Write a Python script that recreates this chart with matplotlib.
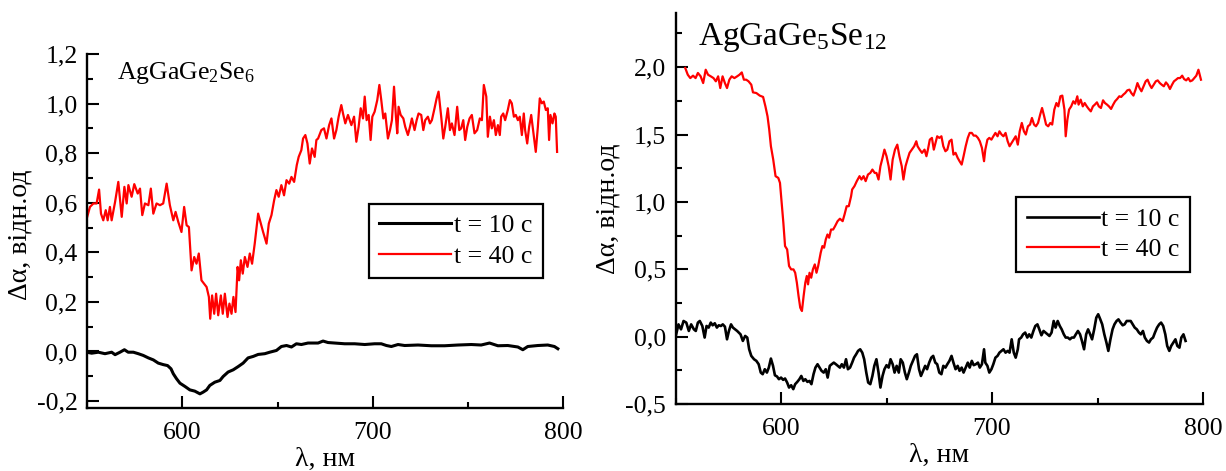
"""
Спектри фотоіндукованої зміни поглинання Δα(λ) для AgGaGe2Se6 та AgGaGe5Se12.

Дві панелі: крива після 10 с та після 40 с опромінення.
Значення зчитані з рисунка вручну (λ у нм, Δα у відн. од.).
"""

import matplotlib
matplotlib.use("Agg")
import matplotlib.pyplot as plt
from matplotlib.ticker import MultipleLocator, FuncFormatter

# ==========================================
# DATA: (λ, Δα)
# ==========================================
left_10s = [
    (549.7, -0.003), (552.3, -0.007), (555.8, -0.003), (559.3, -0.009), (562.8, -0.003),
    (564.6, -0.013), (567.2, -0.003), (569.5, 0.007), (571.5, -0.003), (574.2, -0.003),
    (576.8, -0.009), (579.4, -0.016), (582.1, -0.026), (584.7, -0.034), (587.3, -0.047),
    (589.9, -0.053), (592.2, -0.057), (594.0, -0.070), (595.2, -0.090), (596.9, -0.110),
    (598.7, -0.128), (601.3, -0.141), (603.9, -0.155), (606.5, -0.160), (609.2, -0.171),
    (610.9, -0.164), (612.7, -0.155), (614.4, -0.137), (617.0, -0.124), (619.7, -0.117),
    (621.4, -0.101), (624.0, -0.083), (626.7, -0.074), (629.3, -0.061), (631.9, -0.047),
    (634.5, -0.026), (637.2, -0.020), (639.8, -0.012), (643.3, -0.009), (645.9, -0.003),
    (649.4, 0.004), (652.0, 0.020), (654.7, 0.024), (657.3, 0.018), (659.9, 0.031),
    (662.5, 0.028), (666.0, 0.034), (671.3, 0.034), (673.9, 0.042), (676.5, 0.036),
    (680.0, 0.034), (685.3, 0.031), (690.5, 0.031), (695.8, 0.028), (701.0, 0.031),
    (704.5, 0.031), (707.2, 0.024), (709.8, 0.020), (713.3, 0.028), (716.8, 0.024),
    (723.8, 0.026), (730.8, 0.023), (737.8, 0.023), (744.8, 0.026), (751.8, 0.028),
    (757.0, 0.026), (761.4, 0.034), (765.8, 0.023), (771.0, 0.024), (776.3, 0.018),
    (778.9, 0.007), (781.5, 0.020), (786.8, 0.024), (792.0, 0.026), (795.5, 0.020),
    (797.3, 0.011),
]

left_40s = [
    (549.7, 0.536), (551.4, 0.583), (553.2, 0.597), (554.9, 0.597), (556.2, 0.653),
    (557.2, 0.556), (558.4, 0.529), (559.7, 0.570), (560.7, 0.529), (561.9, 0.583),
    (562.8, 0.529), (564.6, 0.603), (566.3, 0.684), (568.1, 0.543), (569.5, 0.664),
    (570.7, 0.597), (571.6, 0.671), (573.3, 0.624), (574.7, 0.675), (576.5, 0.637),
    (577.7, 0.657), (578.9, 0.550), (580.3, 0.597), (582.1, 0.590), (583.4, 0.657),
    (584.7, 0.556), (586.4, 0.597), (588.2, 0.590), (589.9, 0.597), (591.7, 0.677),
    (593.4, 0.590), (595.2, 0.529), (596.4, 0.563), (597.8, 0.523), (599.5, 0.482),
    (600.9, 0.583), (602.2, 0.509), (603.4, 0.502), (604.8, 0.327), (606.2, 0.381),
    (607.4, 0.354), (608.6, 0.395), (610.0, 0.287), (611.4, 0.273), (612.7, 0.260),
    (613.9, 0.220), (614.6, 0.132), (615.6, 0.226), (616.7, 0.152), (617.7, 0.233),
    (618.8, 0.146), (620.2, 0.226), (621.2, 0.152), (622.3, 0.233), (623.7, 0.139),
    (624.7, 0.193), (625.8, 0.152), (626.8, 0.220), (627.9, 0.159), (629.0, 0.341),
    (629.8, 0.287), (630.7, 0.368), (631.7, 0.314), (632.8, 0.381), (634.2, 0.341),
    (635.4, 0.395), (636.6, 0.354), (638.0, 0.435), (639.8, 0.556), (641.2, 0.516),
    (642.4, 0.482), (644.2, 0.435), (645.4, 0.516), (646.8, 0.550), (648.2, 0.610),
    (649.4, 0.651), (650.6, 0.624), (652.0, 0.671), (653.4, 0.630), (654.7, 0.691),
    (656.1, 0.677), (657.3, 0.704), (658.7, 0.684), (660.1, 0.752), (661.1, 0.785),
    (662.5, 0.812), (663.4, 0.859), (664.6, 0.873), (665.7, 0.839), (666.9, 0.758),
    (668.1, 0.819), (669.5, 0.785), (670.4, 0.853), (671.3, 0.859), (673.0, 0.893),
    (674.4, 0.900), (675.7, 0.859), (677.1, 0.913), (678.3, 0.940), (679.7, 0.859),
    (680.9, 0.893), (682.1, 0.947), (683.5, 0.994), (684.4, 0.960), (685.6, 0.920),
    (687.0, 0.954), (688.8, 0.913), (690.2, 0.947), (691.4, 0.846), (692.6, 0.906),
    (693.7, 0.981), (694.9, 0.940), (695.8, 1.028), (696.8, 0.933), (697.9, 0.954),
    (698.9, 0.853), (699.8, 0.947), (701.0, 0.967), (702.4, 1.014), (703.5, 1.075),
    (704.5, 1.014), (705.6, 0.940), (706.6, 0.960), (708.0, 0.859), (709.1, 0.893),
    (710.1, 0.933), (711.2, 1.068), (712.2, 0.947), (712.9, 0.880), (713.6, 0.987),
    (714.7, 0.954), (716.1, 0.940), (717.1, 0.906), (718.5, 0.873), (719.6, 0.906),
    (720.6, 0.940), (722.0, 0.893), (723.1, 0.933), (724.1, 0.960), (725.5, 0.954),
    (726.6, 0.893), (727.6, 0.933), (729.0, 0.947), (730.1, 0.920), (731.1, 0.933),
    (732.5, 0.981), (733.6, 1.021), (734.6, 1.048), (736.0, 0.947), (737.1, 0.859),
    (738.1, 0.906), (739.5, 0.981), (740.6, 0.893), (741.6, 0.920), (743.0, 0.873),
    (744.4, 0.987), (745.5, 0.893), (746.5, 0.900), (747.6, 0.933), (748.6, 0.853),
    (749.7, 0.906), (750.9, 0.940), (752.1, 0.954), (753.5, 0.880), (754.9, 0.893),
    (756.3, 0.940), (757.4, 0.933), (758.4, 1.075), (759.7, 1.028), (760.5, 0.866),
    (761.6, 0.947), (762.6, 0.900), (763.7, 0.933), (764.7, 0.873), (765.8, 0.913),
    (766.8, 0.873), (767.5, 0.947), (768.6, 0.960), (769.6, 0.933), (771.0, 0.974),
    (772.1, 1.014), (773.1, 1.001), (774.2, 0.947), (775.2, 0.954), (776.3, 0.933),
    (777.3, 0.947), (778.4, 0.873), (779.4, 0.960), (780.1, 0.893), (781.2, 0.839),
    (782.2, 0.906), (783.3, 0.954), (784.7, 0.866), (785.7, 0.805), (786.8, 0.906),
    (787.8, 1.021), (788.9, 1.001), (789.9, 1.008), (791.0, 0.974), (792.0, 0.981),
    (792.7, 0.853), (793.4, 0.954), (794.5, 0.920), (795.5, 0.960), (796.2, 0.947),
    (796.9, 0.805),
]

right_10s = [
    (550.3, 0.017), (551.4, 0.091), (552.6, 0.054), (553.8, 0.116), (555.1, 0.104),
    (556.3, 0.042), (557.4, 0.091), (558.7, 0.054), (559.6, 0.042), (560.6, 0.104),
    (561.5, 0.116), (562.7, 0.079), (563.8, -0.007), (564.7, 0.079), (565.7, 0.067),
    (566.7, 0.104), (567.6, 0.084), (568.6, 0.099), (569.6, 0.067), (570.5, 0.084),
    (571.5, 0.079), (572.4, 0.091), (573.4, 0.074), (574.4, -0.020), (575.3, 0.042),
    (576.3, 0.091), (577.2, 0.067), (578.2, 0.054), (579.2, 0.042), (580.8, 0.017),
    (581.9, -0.032), (583.0, 0.005), (584.0, -0.007), (584.9, -0.094), (585.9, -0.143),
    (587.2, -0.168), (588.3, -0.180), (589.4, -0.205), (590.4, -0.267), (591.3, -0.279),
    (592.3, -0.242), (593.3, -0.267), (594.2, -0.230), (595.2, -0.163), (596.2, -0.217),
    (597.1, -0.287), (598.1, -0.296), (599.0, -0.316), (600.0, -0.304), (601.0, -0.321),
    (601.9, -0.311), (602.9, -0.341), (603.8, -0.378), (604.8, -0.361), (605.8, -0.390),
    (606.7, -0.353), (607.7, -0.336), (608.7, -0.316), (609.6, -0.292), (610.6, -0.329),
    (611.5, -0.316), (612.5, -0.336), (613.5, -0.329), (614.4, -0.353), (615.4, -0.279),
    (616.3, -0.230), (617.3, -0.205), (618.3, -0.230), (619.2, -0.254), (620.2, -0.267),
    (621.2, -0.242), (622.1, -0.304), (623.1, -0.217), (624.0, -0.205), (625.0, -0.193),
    (626.0, -0.205), (626.9, -0.217), (627.9, -0.230), (628.8, -0.205), (629.8, -0.230),
    (630.8, -0.168), (631.7, -0.242), (632.7, -0.230), (633.7, -0.193), (634.6, -0.156),
    (635.6, -0.131), (636.5, -0.106), (637.5, -0.094), (638.5, -0.119), (639.4, -0.168),
    (640.4, -0.267), (641.3, -0.341), (642.3, -0.353), (643.3, -0.292), (644.2, -0.217),
    (645.2, -0.168), (646.2, -0.267), (647.1, -0.378), (648.1, -0.292), (649.0, -0.242),
    (650.0, -0.212), (651.0, -0.230), (651.9, -0.168), (652.9, -0.205), (653.8, -0.267),
    (654.8, -0.217), (655.8, -0.267), (656.7, -0.168), (657.7, -0.193), (658.7, -0.267),
    (659.6, -0.316), (660.6, -0.267), (661.5, -0.217), (662.5, -0.180), (663.5, -0.143),
    (664.4, -0.131), (665.4, -0.242), (666.3, -0.292), (667.3, -0.254), (668.3, -0.217),
    (669.2, -0.242), (670.2, -0.193), (671.2, -0.156), (672.1, -0.143), (673.1, -0.193),
    (674.0, -0.205), (675.0, -0.267), (676.0, -0.279), (676.9, -0.217), (677.9, -0.230),
    (678.8, -0.205), (679.8, -0.180), (680.8, -0.143), (681.7, -0.193), (682.7, -0.242),
    (683.7, -0.217), (684.6, -0.254), (685.6, -0.230), (686.5, -0.267), (687.5, -0.230),
    (688.5, -0.193), (689.4, -0.230), (690.4, -0.180), (691.3, -0.212), (692.3, -0.205),
    (693.3, -0.193), (694.2, -0.230), (695.2, -0.205), (696.2, -0.094), (696.8, -0.193),
    (697.8, -0.217), (698.7, -0.267), (699.7, -0.242), (700.6, -0.205), (701.6, -0.156),
    (702.6, -0.143), (703.5, -0.119), (704.5, -0.106), (705.4, -0.094), (706.4, -0.119),
    (707.4, -0.106), (708.3, -0.119), (709.3, -0.020), (710.3, -0.119), (711.2, -0.156),
    (712.2, -0.094), (712.8, -0.020), (713.8, -0.007), (714.7, 0.017), (715.7, 0.030),
    (716.7, -0.007), (717.6, 0.017), (718.6, -0.007), (719.6, 0.042), (720.5, 0.079),
    (721.5, 0.091), (722.4, 0.054), (723.4, 0.010), (724.4, 0.042), (725.3, 0.030),
    (726.3, 0.017), (727.2, 0.005), (728.2, 0.030), (729.2, 0.116), (730.1, 0.067),
    (731.1, 0.116), (732.1, 0.079), (733.0, 0.054), (734.0, 0.017), (734.9, -0.007),
    (735.9, -0.007), (736.9, -0.020), (737.8, -0.007), (738.8, -0.007), (739.7, 0.017),
    (740.7, 0.042), (741.7, 0.017), (742.6, -0.032), (743.6, -0.094), (744.6, 0.017),
    (745.5, 0.054), (746.5, 0.017), (747.4, -0.020), (748.4, 0.054), (749.4, 0.141),
    (750.3, 0.166), (751.3, 0.128), (752.2, 0.091), (753.2, 0.017), (754.2, -0.044),
    (755.1, -0.106), (756.1, -0.020), (757.1, 0.054), (758.0, 0.091), (759.0, 0.116),
    (759.9, 0.128), (760.9, 0.104), (761.9, 0.084), (762.8, 0.091), (763.8, 0.116),
    (764.7, 0.116), (765.7, 0.116), (766.7, 0.091), (767.6, 0.067), (768.6, 0.054),
    (769.6, 0.030), (770.5, 0.017), (771.5, 0.042), (772.4, -0.007), (773.4, -0.032),
    (774.4, -0.044), (775.3, -0.020), (776.3, -0.007), (777.2, 0.030), (778.2, 0.067),
    (779.2, 0.091), (780.1, 0.104), (781.1, 0.079), (782.1, 0.017), (783.0, -0.069),
    (784.0, -0.106), (784.9, -0.069), (785.9, -0.044), (786.9, -0.020), (787.8, -0.069),
    (788.8, -0.082), (789.7, -0.007), (790.7, 0.017), (791.7, -0.032),
]

right_40s = [
    (554.6, 1.994), (555.8, 1.944), (557.0, 1.919), (558.3, 1.937), (559.5, 1.919),
    (560.6, 1.957), (561.9, 1.932), (563.1, 1.882), (564.3, 1.981), (565.4, 1.944),
    (566.7, 1.932), (568.0, 1.919), (569.1, 1.895), (570.2, 1.932), (571.2, 1.845),
    (572.3, 1.932), (573.4, 1.882), (574.4, 1.845), (575.5, 1.907), (576.6, 1.932),
    (577.9, 1.919), (579.2, 1.932), (580.3, 1.944), (581.4, 1.961), (582.4, 1.907),
    (583.5, 1.907), (584.6, 1.895), (585.9, 1.870), (586.7, 1.813), (588.3, 1.808),
    (589.9, 1.789), (591.5, 1.779), (592.6, 1.709), (593.6, 1.635), (594.4, 1.537),
    (595.2, 1.413), (596.3, 1.314), (597.4, 1.191), (598.7, 1.178), (599.5, 1.141),
    (600.3, 0.993), (601.1, 0.845), (601.9, 0.672), (602.9, 0.647), (603.8, 0.524),
    (604.8, 0.499), (605.9, 0.499), (606.7, 0.474), (607.5, 0.400), (608.3, 0.301),
    (609.1, 0.215), (609.9, 0.190), (610.7, 0.301), (611.5, 0.400), (612.2, 0.450),
    (612.8, 0.388), (613.5, 0.474), (614.3, 0.437), (615.1, 0.499), (616.0, 0.536),
    (616.8, 0.474), (617.6, 0.524), (618.8, 0.623), (619.6, 0.672), (620.4, 0.660),
    (621.2, 0.721), (622.0, 0.758), (622.8, 0.734), (623.7, 0.795), (624.7, 0.795),
    (625.6, 0.820), (626.8, 0.857), (627.9, 0.875), (629.2, 0.857), (630.1, 0.907),
    (631.1, 0.968), (632.1, 0.968), (633.2, 1.042), (633.7, 1.092), (634.8, 1.117),
    (635.9, 1.154), (637.2, 1.191), (638.1, 1.166), (639.1, 1.191), (640.1, 1.154),
    (641.2, 1.203), (642.3, 1.215), (643.3, 1.240), (644.4, 1.215), (645.2, 1.215),
    (646.2, 1.166), (647.1, 1.265), (648.1, 1.327), (649.0, 1.388), (650.0, 1.339),
    (651.0, 1.265), (651.9, 1.166), (652.9, 1.314), (654.0, 1.388), (655.1, 1.425),
    (656.1, 1.339), (657.2, 1.265), (658.0, 1.166), (659.0, 1.265), (659.9, 1.314),
    (660.9, 1.364), (662.0, 1.388), (663.1, 1.413), (664.1, 1.450), (664.7, 1.413),
    (665.7, 1.388), (666.8, 1.364), (668.0, 1.388), (668.9, 1.339), (669.6, 1.388),
    (670.5, 1.462), (671.5, 1.475), (672.4, 1.388), (673.2, 1.438), (674.0, 1.487),
    (675.0, 1.475), (676.0, 1.487), (676.9, 1.413), (677.9, 1.376), (678.8, 1.388),
    (679.8, 1.450), (680.8, 1.462), (681.7, 1.351), (682.7, 1.364), (683.7, 1.327),
    (684.6, 1.302), (685.6, 1.277), (686.5, 1.339), (687.5, 1.413), (688.5, 1.475),
    (689.4, 1.512), (690.4, 1.512), (691.3, 1.492), (692.3, 1.492), (693.3, 1.475),
    (694.2, 1.450), (695.2, 1.401), (696.2, 1.302), (696.8, 1.388), (697.8, 1.462),
    (698.7, 1.475), (699.7, 1.462), (700.6, 1.487), (701.6, 1.512), (702.6, 1.487),
    (703.5, 1.524), (704.5, 1.500), (705.4, 1.487), (706.4, 1.512), (707.4, 1.450),
    (708.3, 1.413), (709.3, 1.438), (710.3, 1.462), (711.2, 1.487), (712.2, 1.425),
    (713.1, 1.524), (714.1, 1.586), (715.1, 1.524), (716.0, 1.500), (717.0, 1.561),
    (718.0, 1.574), (718.9, 1.623), (719.9, 1.574), (720.8, 1.561), (721.8, 1.586),
    (722.8, 1.648), (723.7, 1.697), (724.7, 1.635), (725.6, 1.574), (726.6, 1.561),
    (727.6, 1.586), (728.5, 1.574), (729.5, 1.685), (730.5, 1.734), (731.4, 1.709),
    (732.4, 1.784), (733.3, 1.789), (734.3, 1.685), (734.9, 1.487), (735.7, 1.611),
    (736.5, 1.685), (737.5, 1.709), (738.5, 1.747), (739.4, 1.729), (740.4, 1.784),
    (741.0, 1.722), (742.0, 1.759), (743.0, 1.709), (743.9, 1.734), (744.9, 1.709),
    (745.8, 1.690), (746.8, 1.672), (747.8, 1.709), (748.7, 1.722), (749.7, 1.739),
    (750.6, 1.709), (751.6, 1.697), (752.6, 1.754), (753.5, 1.734), (754.5, 1.722),
    (755.4, 1.709), (756.4, 1.690), (757.4, 1.722), (758.3, 1.747), (759.3, 1.764),
    (760.3, 1.784), (761.2, 1.779), (762.2, 1.796), (763.1, 1.808), (764.1, 1.828),
    (765.1, 1.833), (766.0, 1.808), (767.0, 1.789), (768.0, 1.833), (768.9, 1.882),
    (769.9, 1.845), (770.8, 1.821), (771.8, 1.858), (772.8, 1.895), (773.7, 1.907),
    (774.7, 1.870), (775.6, 1.845), (776.6, 1.870), (777.6, 1.895), (778.5, 1.902),
    (779.5, 1.882), (780.4, 1.870), (781.4, 1.858), (782.4, 1.887), (783.3, 1.870),
    (784.3, 1.838), (785.3, 1.870), (786.2, 1.895), (787.2, 1.907), (788.1, 1.919),
    (789.1, 1.919), (790.1, 1.937), (791.0, 1.912), (792.0, 1.902), (793.0, 1.919),
    (793.9, 1.895), (794.9, 1.902), (795.8, 1.919), (796.8, 1.937), (797.8, 1.981),
    (798.4, 1.944), (799.0, 1.907),
]

legend_labels = ["t = 10 с", "t = 40 с"]
compounds = [r"AgGaGe$_2$Se$_6$", r"AgGaGe$_5$Se$_{12}$"]
x_label = "λ, нм"
y_label = "Δα, відн.од"

# ==========================================
# STYLE
# ==========================================
FONT = "Liberation Serif"
TICK_SIZE = 18.5
LABEL_SIZE = 20
LEGEND_SIZE = 18.5
LINE_W = 1.6

plt.rcParams["font.family"] = [FONT, "DejaVu Serif"]
plt.rcParams["mathtext.fontset"] = "custom"
plt.rcParams["mathtext.rm"] = FONT
plt.rcParams["mathtext.it"] = FONT
plt.rcParams["axes.unicode_minus"] = False


def comma_fmt(v, pos):
    """Десятковий роздільник — кома."""
    return f"{v:.1f}".replace(".", ",")


def style_axes(ax, y_major, y_minor):
    """Ліва та нижня осі, тики всередину."""
    for side in ("top", "right"):
        ax.spines[side].set_visible(False)
    for side in ("left", "bottom"):
        ax.spines[side].set_linewidth(1.7)
    ax.set_xlim(550, 800)
    ax.xaxis.set_major_locator(MultipleLocator(100))
    ax.xaxis.set_minor_locator(MultipleLocator(50))
    ax.yaxis.set_major_locator(MultipleLocator(y_major))
    ax.yaxis.set_minor_locator(MultipleLocator(y_minor))
    ax.yaxis.set_major_formatter(FuncFormatter(comma_fmt))
    ax.tick_params(which="major", direction="in", length=8.5, width=1.5,
                   labelsize=TICK_SIZE, top=False, right=False)
    ax.tick_params(which="minor", direction="in", length=4.5, width=1.5,
                   top=False, right=False)
    ax.tick_params(axis="x", which="major", pad=10)
    ax.tick_params(axis="y", which="major", pad=7)


def draw_panel(ax, black, red, title, title_size, title_xy, legend_anchor,
               black_lw):
    ax.plot([p[0] for p in black], [p[1] for p in black],
            color="black", lw=black_lw, label=legend_labels[0])
    ax.plot([p[0] for p in red], [p[1] for p in red],
            color="#ff0000", lw=LINE_W, label=legend_labels[1])
    ax.text(title_xy[0], title_xy[1], title, transform=ax.transAxes,
            fontsize=title_size, ha="left", va="baseline")
    leg = ax.legend(loc="upper right", bbox_to_anchor=legend_anchor,
                    borderaxespad=0, fontsize=LEGEND_SIZE, frameon=True,
                    fancybox=False, edgecolor="black", framealpha=1,
                    handlelength=2.8, handletextpad=0.1, labelspacing=0.3,
                    borderpad=0.4)
    leg.get_frame().set_linewidth(1.6)
    ax.set_xlabel(x_label, fontsize=LABEL_SIZE, labelpad=2)
    ax.set_ylabel(y_label, fontsize=LABEL_SIZE)


def main():
    fig = plt.figure(figsize=(12.26, 4.71), dpi=100)

    # Ліва панель: AgGaGe2Se6
    ax1 = fig.add_axes([0.0712, 0.1338, 0.3880, 0.7516])
    style_axes(ax1, 0.2, 0.1)
    ax1.set_ylim(-0.228, 1.2)
    draw_panel(ax1, left_10s, left_40s, compounds[0], 18.5,
               (0.063, 0.93), (0.957, 0.576), black_lw=2.2)
    ax1.yaxis.set_label_coords(-0.116, 0.49)

    # Права панель: AgGaGe5Se12
    ax2 = fig.add_axes([0.5510, 0.1423, 0.4303, 0.8295])
    style_axes(ax2, 0.5, 0.25)
    ax2.set_ylim(-0.5, 2.4)
    draw_panel(ax2, right_10s, right_40s, compounds[1], 24,
               (0.042, 0.918), (0.975, 0.529), black_lw=1.9)
    ax2.yaxis.set_label_coords(-0.105, 0.50)

    fig.savefig("out.png", dpi=100)
    plt.close(fig)


if __name__ == "__main__":
    main()
